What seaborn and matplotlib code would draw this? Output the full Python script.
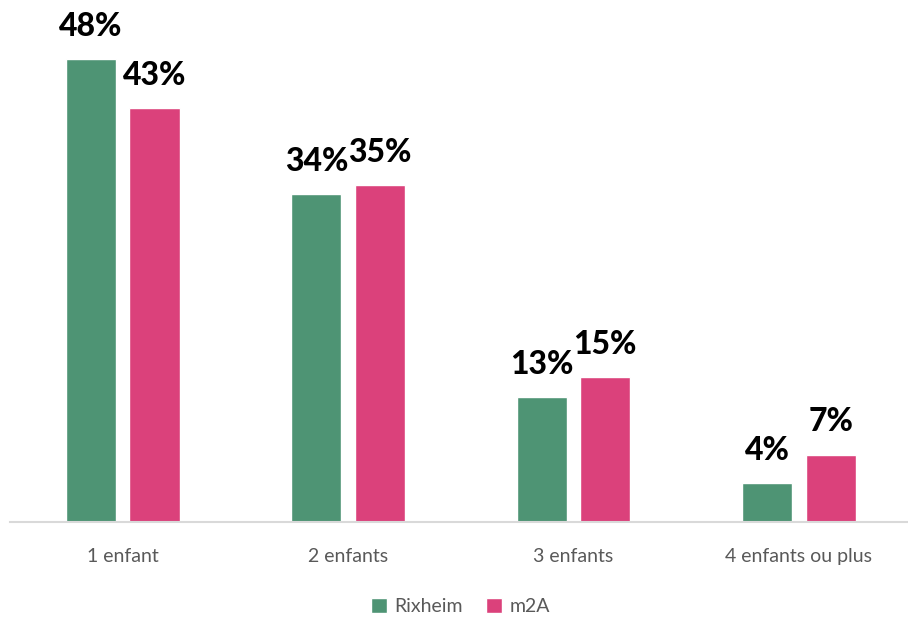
import pandas as pd
import matplotlib.pyplot as plt
import seaborn as sns

categories = ["1 enfant", "2 enfants", "3 enfants", "4 enfants ou plus"]
series_names = ["Rixheim", "m2A"]
rixheim = [48, 34, 13, 4]
m2a = [43, 35, 15, 7]
colors = ["#4E9474", "#DB417B"]

df = pd.DataFrame({
    "Categorie": categories * 2,
    "Zone": [series_names[0]] * 4 + [series_names[1]] * 4,
    "Valeur": rixheim + m2a,
})

sns.set_style("white")
plt.rcParams['font.family'] = ['Lato', 'DejaVu Sans']

fig = plt.figure(figsize=(9.08, 6.17), dpi=100)
ax = fig.add_axes([0.011, 0.154, 0.993, 0.781])

sns.barplot(data=df, x="Categorie", y="Valeur", hue="Zone", palette=colors,
            width=0.564, gap=0.21, saturation=1, ax=ax, legend=True)

ax.set_ylim(0, 50)
ax.set_xlim(-0.5, 3.5)
ax.set_xlabel("")
ax.set_ylabel("")
ax.set_yticks([])
for s in ["top", "left", "right"]:
    ax.spines[s].set_visible(False)
ax.spines["bottom"].set_color("#D9D9D9")
ax.spines["bottom"].set_linewidth(1.5)
ax.tick_params(axis="x", length=0, pad=19, labelsize=14, labelcolor="#595959")

for cont in ax.containers:
    ax.bar_label(cont, labels=[f"{v:.0f}%" for v in cont.datavalues],
                 padding=13, fontsize=23, fontweight="black", color="black", clip_on=False)

ax.legend(loc="center", bbox_to_anchor=(0.5, -0.176), ncol=2, frameon=False,
          fontsize=14, labelcolor="#595959", handlelength=0.8, handleheight=0.8,
          handletextpad=0.4, columnspacing=1.2)

fig.savefig("out.png", dpi=100)
